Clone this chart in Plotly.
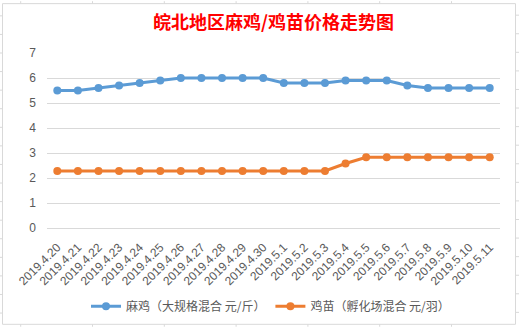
import plotly.graph_objects as go

dates = ["2019.4.20", "2019.4.21", "2019.4.22", "2019.4.23", "2019.4.24", "2019.4.25",
         "2019.4.26", "2019.4.27", "2019.4.28", "2019.4.29", "2019.4.30", "2019.5.1",
         "2019.5.2", "2019.5.3", "2019.5.4", "2019.5.5", "2019.5.6", "2019.5.7",
         "2019.5.8", "2019.5.9", "2019.5.10", "2019.5.11"]
ma_ji = [5.5, 5.5, 5.6, 5.7, 5.8, 5.9, 6.0, 6.0, 6.0, 6.0, 6.0, 5.8,
         5.8, 5.8, 5.9, 5.9, 5.9, 5.7, 5.6, 5.6, 5.6, 5.6]
ji_miao = [2.28, 2.28, 2.28, 2.28, 2.28, 2.28, 2.28, 2.28, 2.28, 2.28, 2.28, 2.28,
           2.28, 2.28, 2.58, 2.83, 2.83, 2.83, 2.83, 2.83, 2.83, 2.83]
name_a = "麻鸡（大规格混合 元/斤）"
name_b = "鸡苗（孵化场混合 元/羽）"
title = "皖北地区麻鸡/鸡苗价格走势图"

W, H = 519, 333
L, R, T, B = 47, 19, 53, 101
PW, PH = W - L - R, H - T - B


def px(x):
    return (x - L) / PW


def py(y):
    return (H - B - y) / PH


FONT = "Liberation Sans, Noto Sans CJK SC, sans-serif"
fig = go.Figure()
fig.add_trace(go.Scatter(x=dates, y=ma_ji, name=name_a, mode="lines+markers",
                         line=dict(color="#5B9BD5", width=3),
                         marker=dict(size=8, color="#5B9BD5")))
fig.add_trace(go.Scatter(x=dates, y=ji_miao, name=name_b, mode="lines+markers",
                         line=dict(color="#ED7D31", width=3),
                         marker=dict(size=8, color="#ED7D31")))

shapes = []
# chart border
shapes.append(dict(type="rect", xref="paper", yref="paper",
                   x0=px(2.5), x1=px(515.5), y0=py(2.5), y1=py(330.5),
                   line=dict(color="#D9D9D9", width=1), layer="below"))
# spreadsheet grid stubs outside chart
for k in range(17):
    yy = 15 + 19 * k
    shapes.append(dict(type="line", xref="paper", yref="paper",
                       x0=px(0), x1=px(2.5), y0=py(yy), y1=py(yy),
                       line=dict(color="#D9D9D9", width=1)))
    shapes.append(dict(type="line", xref="paper", yref="paper",
                       x0=px(515.5), x1=px(519), y0=py(yy - 0.7), y1=py(yy - 0.7),
                       line=dict(color="#D9D9D9", width=1)))
for k in range(7):
    xx = 20.7 + 71.8 * k
    shapes.append(dict(type="line", xref="paper", yref="paper",
                       x0=px(xx), x1=px(xx), y0=py(0), y1=py(2.5),
                       line=dict(color="#D9D9D9", width=1)))
    shapes.append(dict(type="line", xref="paper", yref="paper",
                       x0=px(xx), x1=px(xx), y0=py(330.5), y1=py(333),
                       line=dict(color="#D9D9D9", width=1)))

fig.update_layout(
    width=W, height=H,
    margin=dict(l=L, r=R, t=T, b=B),
    paper_bgcolor="white", plot_bgcolor="white",
    title=dict(text="<b>" + title + "</b>", x=0.5, xref="paper", xanchor="center",
               y=1 - 23 / H, yanchor="middle",
               font=dict(family="Noto Sans CJK SC", size=18, color="#FF0000")),
    xaxis=dict(type="category", tickangle=-45, showgrid=False, showline=False,
               ticks="", tickfont=dict(family=FONT, size=12, color="#595959"),
               range=[-0.5, len(dates) - 0.5], fixedrange=True,
               ticklabelstandoff=9),
    yaxis=dict(range=[0, 7], dtick=1, showgrid=True, gridcolor="#D9D9D9", gridwidth=1,
               zeroline=True, zerolinecolor="#D9D9D9", zerolinewidth=1, showline=False,
               tickfont=dict(family=FONT, size=12, color="#595959"), ticks="",
               ticklabelstandoff=10),
    legend=dict(orientation="h", x=0.5 - 3 / PW, xanchor="center", y=py(312), yanchor="middle",
                font=dict(family="Noto Sans CJK SC", size=12, color="#595959"),
                itemwidth=30, tracegroupgap=0),
    showlegend=True,
    shapes=shapes,
)
fig.write_html("out.html")
